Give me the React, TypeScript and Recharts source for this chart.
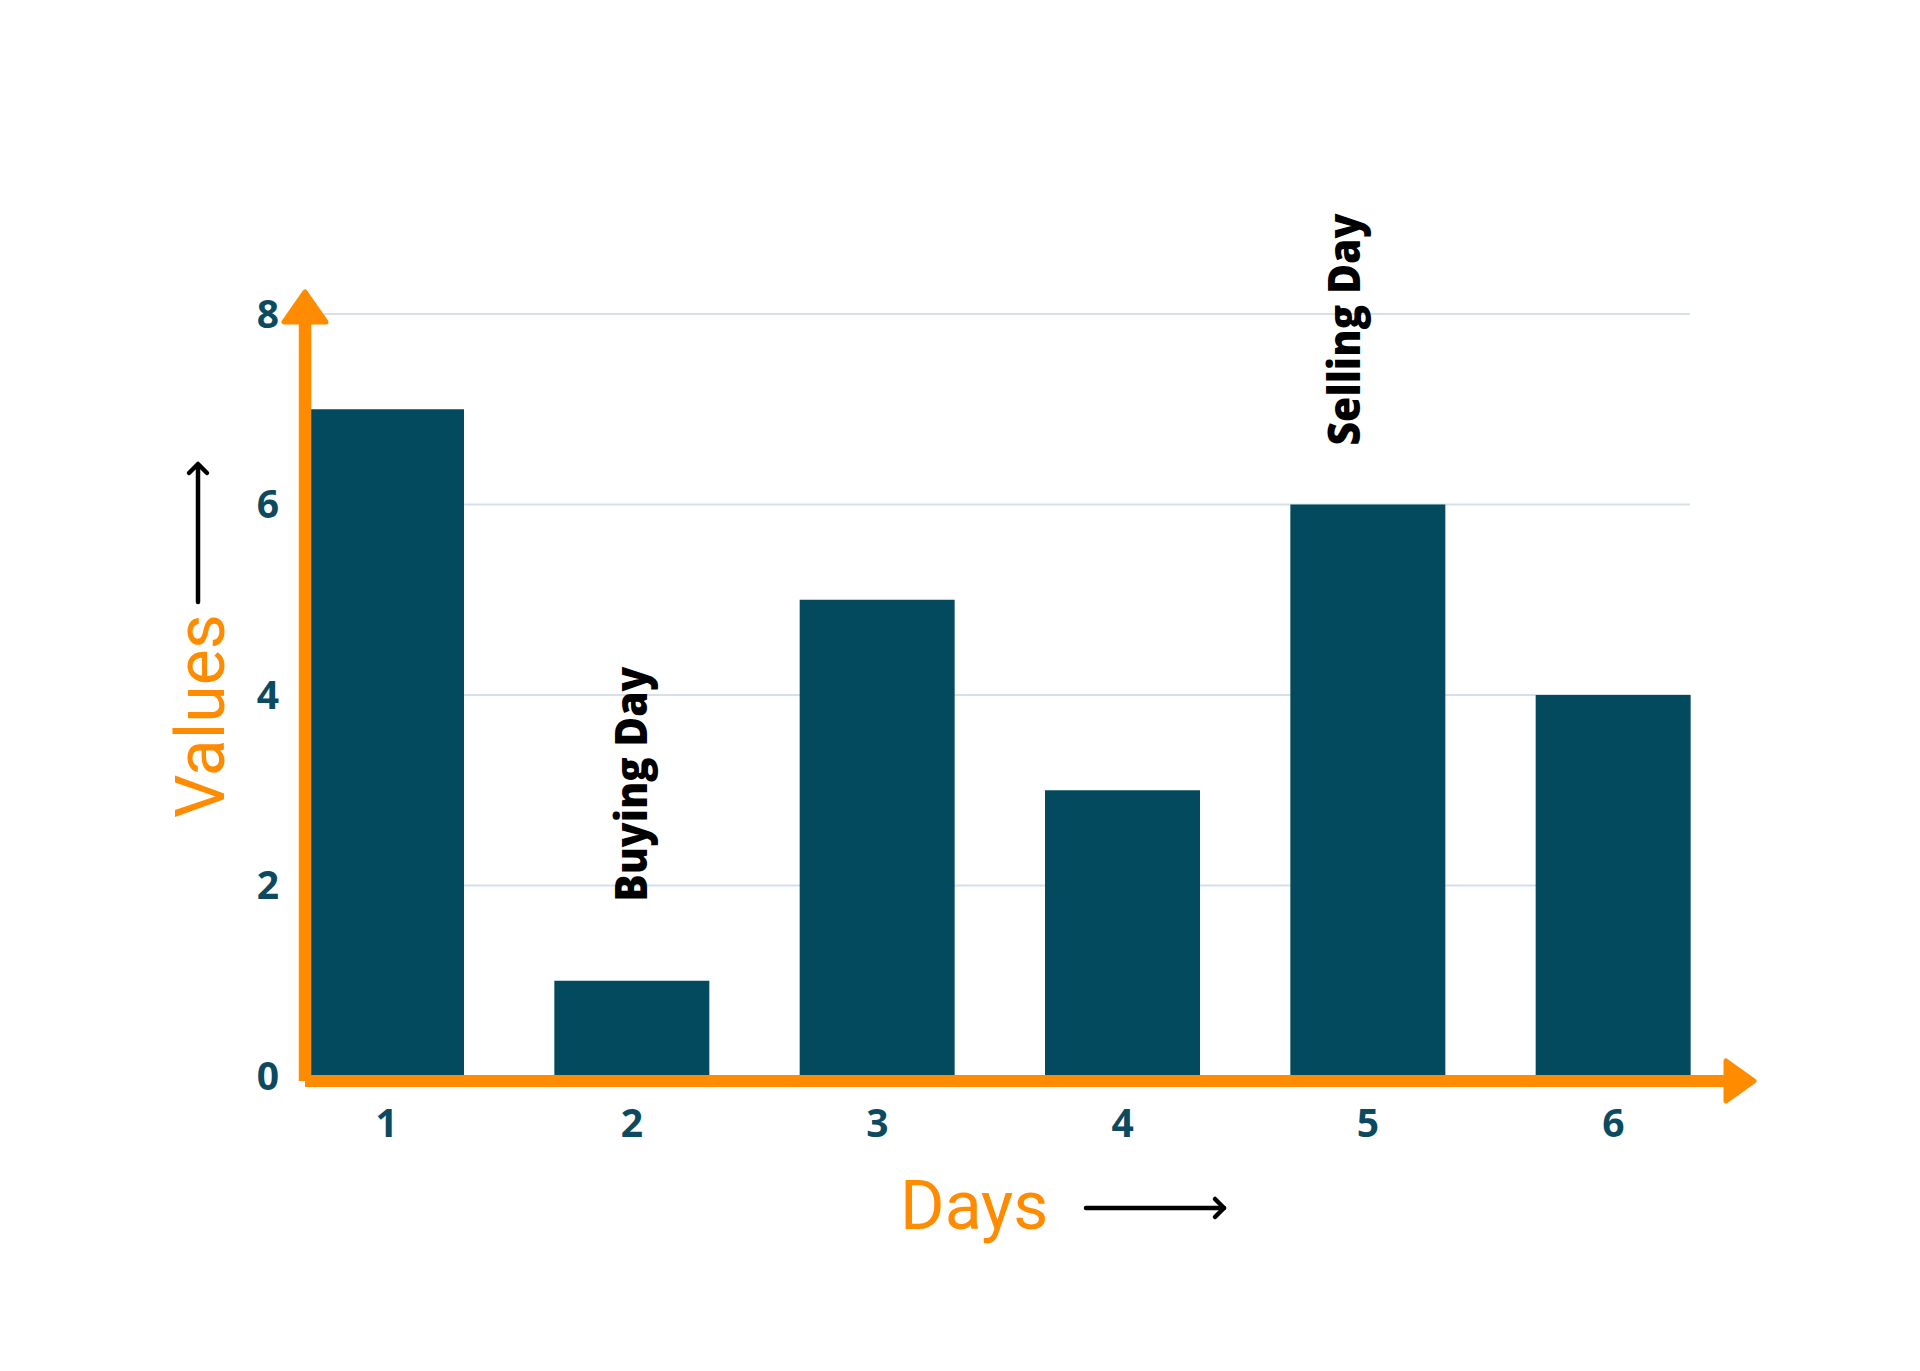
import { BarChart, Bar, XAxis, YAxis, CartesianGrid, LabelList } from "recharts";

const days = ["1", "2", "3", "4", "5", "6"];
const values = [7, 1, 5, 3, 6, 4];
const yTicks = [0, 2, 4, 6, 8];
const notes: Record<string, string> = { "2": "Buying Day", "5": "Selling Day" };

// placement of the rotated notes relative to their bar (px)
const noteOffset: Record<string, { dx: number; gap: number; len: number }> = {
  "2": { dx: 15, gap: 79, len: 235 },
  "5": { dx: -8, gap: 59, len: 232 },
};

const data = days.map((day, i) => ({ day, value: values[i], note: notes[day] ?? "" }));

const W = 1920;
const H = 1371;
const PLOT_LEFT = 305;
const PLOT_RIGHT = 1690;
const PLOT_TOP = 314;
const PLOT_BOTTOM = 1076;
const X_AXIS_H = 60;

const ORANGE = "#ff8c00";
const TEAL = "#034a5f";
const TICK = "#0b4a61";

function NoteLabel(props: any) {
  const { x, y, width, value, index } = props;
  if (!value) return null;
  const off = noteOffset[data[index].day];
  const bx = Number(x) + Number(width) / 2 + off.dx;
  const by = Number(y) - off.gap;
  return (
    <text
      x={bx}
      y={by}
      transform={`rotate(-90 ${bx} ${by})`}
      textAnchor="start"
      fontFamily="'Open Sans', sans-serif"
      fontWeight={800}
      fontSize={44}
      fill="#000"
      textLength={off.len}
      lengthAdjust="spacingAndGlyphs"
    >
      {value}
    </text>
  );
}

export default function App() {
  return (
    <div style={{ position: "absolute", left: 0, top: 0, width: W, height: H, background: "#fff" }}>
      <BarChart
        width={W}
        height={H}
        data={data}
        barSize={155}
        margin={{ top: PLOT_TOP, right: W - PLOT_RIGHT, bottom: H - PLOT_BOTTOM - X_AXIS_H, left: 0 }}
      >
        <CartesianGrid vertical={false} stroke="#d5e0e7" strokeWidth={2} />
        <XAxis
          dataKey="day"
          height={X_AXIS_H}
          padding={{ left: -41, right: -46 }}
          axisLine={false}
          tickLine={false}
          tickSize={0}
          tickMargin={33}
          tick={{ fill: TICK, fontSize: 39, fontWeight: 700, fontFamily: "'Open Sans', sans-serif" }}
        />
        <YAxis
          width={PLOT_LEFT}
          domain={[0, 8]}
          ticks={yTicks}
          axisLine={false}
          tickLine={false}
          tickSize={0}
          tickMargin={26}
          tick={{ fill: TICK, fontSize: 39, fontWeight: 700, fontFamily: "'Open Sans', sans-serif" }}
        />
        <Bar dataKey="value" fill={TEAL} isAnimationActive={false}>
          <LabelList dataKey="note" content={NoteLabel} />
        </Bar>
      </BarChart>

      <svg
        width={W}
        height={H}
        style={{ position: "absolute", left: 0, top: 0, pointerEvents: "none" }}
      >
        {/* orange axes with arrow heads */}
        <line x1={PLOT_LEFT} y1={1081} x2={PLOT_LEFT} y2={318} stroke={ORANGE} strokeWidth={12.5} />
        <polygon
          points={`${PLOT_LEFT},292 ${PLOT_LEFT - 21},322 ${PLOT_LEFT + 21},322`}
          fill={ORANGE}
          stroke={ORANGE}
          strokeWidth={5}
          strokeLinejoin="round"
        />
        <line x1={PLOT_LEFT} y1={1081} x2={1730} y2={1081} stroke={ORANGE} strokeWidth={12} />
        <polygon
          points="1754,1081 1726,1061 1726,1101"
          fill={ORANGE}
          stroke={ORANGE}
          strokeWidth={5}
          strokeLinejoin="round"
        />

        {/* axis titles */}
        <text
          x={224}
          y={716}
          transform="rotate(-90 224 716)"
          textAnchor="middle"
          fontFamily="Roboto, sans-serif"
          fontSize={68}
          fill={ORANGE}
        >
          Values
        </text>
        <text x={900} y={1229} fontFamily="Roboto, sans-serif" fontSize={68} fill={ORANGE}>
          Days
        </text>

        {/* black direction arrows */}
        <g stroke="#000" strokeWidth={4.5} fill="none" strokeLinecap="round" strokeLinejoin="round">
          <line x1={198} y1={602} x2={198} y2={465} />
          <polyline points="189,473 198,464 207,473" />
          <line x1={1086} y1={1208} x2={1224} y2={1208} />
          <polyline points="1215,1199 1224,1208 1215,1217" />
        </g>
      </svg>
    </div>
  );
}
